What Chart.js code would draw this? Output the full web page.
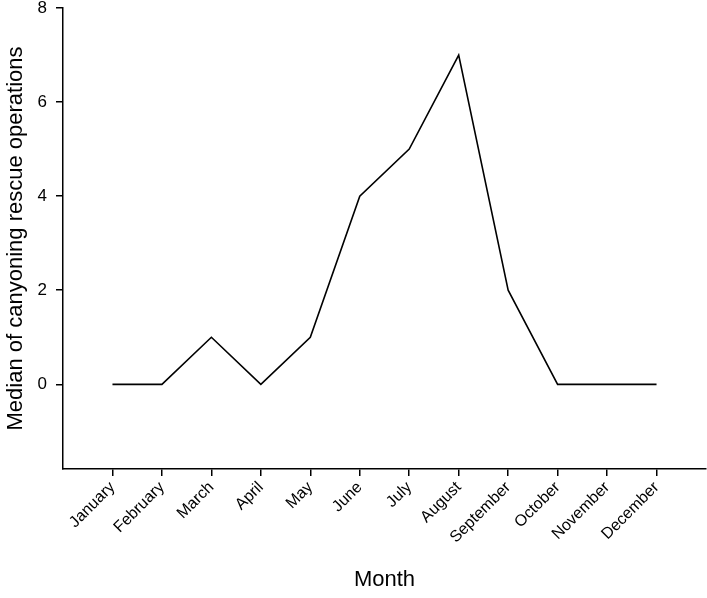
<!DOCTYPE html>
<html>
<head>
<meta charset="utf-8">
<script src="https://cdn.jsdelivr.net/npm/chart.js@4"></script>
<style>
html,body{margin:0;padding:0;background:#fff;}
#wrap{width:707px;height:598px;position:relative;}
</style>
</head>
<body>
<div id="wrap"><canvas id="c" width="707" height="598"></canvas></div>
<script>
const months = ["January","February","March","April","May","June","July","August","September","October","November","December"];
const medianRescues = [0,0,1,0,1,4,5,7,2,0,0,0];
const yTicks = [0,2,4,6,8];

const points = months.map((m,i)=>({x:i,y:medianRescues[i]}));

function noPad(s){s.paddingTop=0;s.paddingBottom=0;s.paddingLeft=0;s.paddingRight=0;}

new Chart(document.getElementById('c'),{
  type:'line',
  data:{datasets:[{data:points,borderColor:'#000',borderWidth:1.6,pointRadius:0,tension:0,fill:false}]},
  options:{
    responsive:false,animation:false,
    layout:{padding:{top:8,right:1,left:0,bottom:0}},
    plugins:{legend:{display:false},tooltip:{enabled:false}},
    scales:{
      x:{type:'linear',min:-1,max:12,
        afterBuildTicks:s=>{s.ticks=months.map((m,i)=>({value:i}));},
        afterFit:s=>{s.height=129;noPad(s);},
        ticks:{autoSkip:false,maxRotation:45,minRotation:45,color:'#000',font:{family:'Liberation Sans, Arial',size:16},padding:2,
          callback:(v)=>months[v]},
        grid:{drawOnChartArea:false,drawTicks:true,tickLength:7,color:'#000',lineWidth:1.5},
        border:{display:true,color:'#000',width:1.5},
        title:{display:true,text:'Month',color:'#000',font:{family:'Liberation Sans, Arial',size:22},padding:{top:0,bottom:5}}
      },
      y:{type:'linear',min:-1.8,max:8,
        afterBuildTicks:s=>{s.ticks=yTicks.map(v=>({value:v}));},
        afterFit:s=>{s.width=63;noPad(s);},
        ticks:{color:'#000',font:{family:'Liberation Sans, Arial',size:17},padding:9},
        grid:{drawOnChartArea:false,drawTicks:true,tickLength:7,color:'#000',lineWidth:1.5},
        border:{display:true,color:'#000',width:1.5},
        title:{display:true,text:'Median of canyoning rescue operations',color:'#000',font:{family:'Liberation Sans, Arial',size:22},padding:{top:3,bottom:0}}
      }
    }
  }
});
</script>
</body>
</html>
